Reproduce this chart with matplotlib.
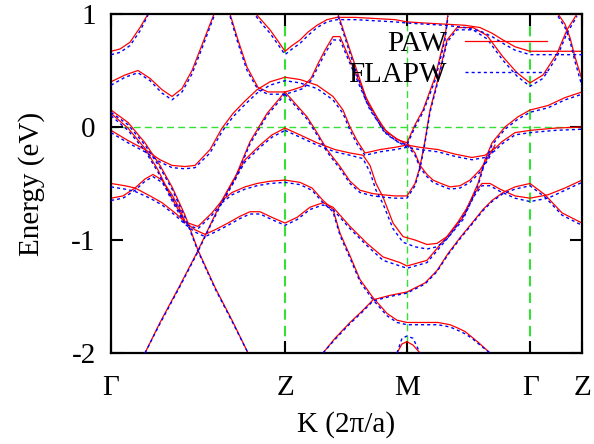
import matplotlib
matplotlib.use('Agg')
import matplotlib.pyplot as plt

plt.rcParams['font.family'] = ['Liberation Serif', 'DejaVu Serif']
plt.rcParams['font.size'] = 21
plt.rcParams['axes.unicode_minus'] = False

# high-symmetry points along the path
kpt_pos = [0.0, 1.74, 2.963, 4.193, 4.71]
kpt_labels = ['Γ', 'Z', 'M', 'Γ', 'Z']
e_ticks = [-2, -1, 0, 1]
e_labels = ['-2', '-1', '0', '1']

# bands: k, PAW energy (eV), FLAPW energy (eV)
b01_k = [0.00, 0.09, 0.19, 0.29, 0.37]
b01_paw = [0.67, 0.69, 0.75, 0.88, 1.00]
b01_fla = [0.64, 0.66, 0.72, 0.85, 0.99]

b02_k = [0.00, 0.14, 0.27, 0.39, 0.51, 0.61, 0.71, 0.81, 0.92, 1.03]
b02_paw = [0.40, 0.46, 0.50, 0.43, 0.33, 0.27, 0.34, 0.50, 0.75, 1.00]
b02_fla = [0.37, 0.44, 0.48, 0.41, 0.30, 0.24, 0.31, 0.47, 0.72, 0.98]

b03_k = [1.19, 1.27, 1.36, 1.47, 1.57, 1.74, 1.82, 1.92, 2.00, 2.07, 2.14, 2.22, 2.29, 2.42, 2.59, 2.76, 2.96]
b03_paw = [1.00, 0.77, 0.53, 0.35, 0.31, 0.31, 0.33, 0.36, 0.43, 0.56, 0.68, 0.80, 0.80, 0.53, 0.18, -0.05, -0.16]
b03_fla = [0.98, 0.74, 0.50, 0.33, 0.29, 0.29, 0.31, 0.34, 0.41, 0.53, 0.65, 0.77, 0.77, 0.50, 0.15, -0.07, -0.18]

b04_k = [2.27, 2.39, 2.55, 2.72, 2.86, 2.96, 3.04, 3.12, 3.24, 3.34, 3.37]
b04_paw = [1.00, 0.68, 0.26, -0.01, -0.11, -0.14, 0.02, 0.15, 0.44, 0.80, 1.00]
b04_fla = [0.98, 0.65, 0.23, -0.03, -0.13, -0.16, 0.00, 0.13, 0.41, 0.77, 0.98]

b05_k = [1.45, 1.52, 1.59, 1.67, 1.74, 1.81, 1.89, 1.97, 2.06, 2.16, 2.26, 2.44, 2.64, 2.84, 2.96,
         3.14, 3.34, 3.54, 3.69, 3.81, 3.92, 4.04, 4.19, 4.44, 4.71]
b05_paw = [1.00, 0.93, 0.86, 0.76, 0.67, 0.72, 0.77, 0.84, 0.90, 0.95, 0.97, 0.97, 0.96, 0.95, 0.93,
           0.92, 0.91, 0.90, 0.88, 0.83, 0.77, 0.71, 0.67, 0.67, 0.67]
b05_fla = [0.98, 0.90, 0.83, 0.73, 0.64, 0.69, 0.74, 0.81, 0.88, 0.93, 0.95, 0.95, 0.94, 0.93, 0.92,
           0.91, 0.90, 0.88, 0.85, 0.80, 0.74, 0.68, 0.64, 0.64, 0.64]

b06_k = [0.00, 0.17, 0.34, 0.49, 0.61, 0.74, 0.84, 0.99, 1.11, 1.22, 1.34, 1.46, 1.59, 1.74, 1.89,
         2.06, 2.22, 2.32, 2.39, 2.46, 2.54, 2.69, 2.84, 2.96, 3.09, 3.27, 3.44, 3.61, 3.74, 3.84,
         3.91, 4.04, 4.19, 4.44, 4.71]
b06_paw = [-0.03, -0.12, -0.20, -0.29, -0.34, -0.35, -0.34, -0.20, -0.01, 0.12, 0.23, 0.33, 0.40, 0.44, 0.42,
           0.37, 0.27, 0.15, 0.00, -0.12, -0.23, -0.20, -0.18, -0.16, -0.18, -0.20, -0.24, -0.27, -0.25, -0.19,
           -0.13, -0.05, -0.03, -0.01, 0.00]
b06_fla = [-0.05, -0.14, -0.22, -0.31, -0.36, -0.37, -0.36, -0.23, -0.04, 0.09, 0.20, 0.30, 0.37, 0.41, 0.39,
           0.34, 0.24, 0.12, -0.03, -0.15, -0.25, -0.22, -0.20, -0.18, -0.20, -0.22, -0.26, -0.29, -0.27, -0.21,
           -0.15, -0.07, -0.05, -0.03, -0.02]

b07_k = [0.00, 0.17, 0.34, 0.49, 0.61, 0.74, 0.87, 1.04, 1.21, 1.37]
b07_paw = [0.15, 0.04, -0.14, -0.34, -0.53, -0.78, -1.09, -1.42, -1.71, -2.00]
b07_fla = [0.13, 0.02, -0.16, -0.36, -0.55, -0.80, -1.10, -1.43, -1.72, -2.00]

b08_k = [0.00, 0.17, 0.34, 0.47, 0.59, 0.74, 0.87, 1.01, 1.11, 1.24, 1.39, 1.56, 1.74]
b08_paw = [0.12, -0.01, -0.19, -0.38, -0.60, -0.84, -0.88, -0.76, -0.65, -0.45, -0.13, 0.12, 0.31]
b08_fla = [0.10, -0.03, -0.21, -0.40, -0.62, -0.86, -0.90, -0.78, -0.67, -0.47, -0.15, 0.10, 0.29]

b09_k = [0.34, 0.49, 0.69, 0.86, 0.99, 1.11, 1.21, 1.34, 1.49, 1.61, 1.74]
b09_paw = [-2.00, -1.73, -1.40, -1.11, -0.87, -0.65, -0.49, -0.29, -0.16, -0.07, -0.01]
b09_fla = [-2.00, -1.74, -1.41, -1.12, -0.88, -0.67, -0.51, -0.31, -0.18, -0.09, -0.03]

b10_k = [0.00, 0.14, 0.24, 0.39, 0.51, 0.64, 0.74, 0.84, 0.94, 1.04, 1.17, 1.29, 1.39, 1.49, 1.61,
         1.74, 1.86, 1.99, 2.12, 2.22, 2.39, 2.56, 2.72, 2.89, 2.96, 3.16, 3.36, 3.52, 3.67, 3.74,
         3.81, 3.94, 4.07, 4.19, 4.37, 4.54, 4.71]
b10_paw = [-0.50, -0.52, -0.54, -0.61, -0.67, -0.76, -0.84, -0.91, -0.95, -0.91, -0.85, -0.79, -0.75, -0.75, -0.80,
           -0.85, -0.80, -0.71, -0.67, -0.71, -0.88, -1.03, -1.15, -1.20, -1.23, -1.18, -0.97, -0.80, -0.50, -0.29,
           -0.14, 0.00, 0.09, 0.15, 0.19, 0.26, 0.31]
b10_fla = [-0.53, -0.55, -0.57, -0.63, -0.69, -0.78, -0.86, -0.93, -0.97, -0.93, -0.87, -0.81, -0.77, -0.77, -0.82,
           -0.87, -0.82, -0.73, -0.69, -0.73, -0.90, -1.05, -1.18, -1.23, -1.25, -1.20, -0.99, -0.82, -0.52, -0.31,
           -0.16, -0.02, 0.07, 0.13, 0.17, 0.24, 0.29]

b11_k = [0.00, 0.12, 0.24, 0.34, 0.42, 0.51, 0.61, 0.69, 0.74]
b11_paw = [-0.63, -0.61, -0.54, -0.46, -0.42, -0.47, -0.60, -0.73, -0.84]
b11_fla = [-0.65, -0.63, -0.56, -0.48, -0.44, -0.49, -0.62, -0.75, -0.86]

b12_k = [1.11, 1.21, 1.34, 1.46, 1.59, 1.74, 1.89, 2.01, 2.12, 2.22, 2.29, 2.39, 2.49, 2.62, 2.76,
         2.86, 2.96, 3.14, 3.27, 3.39, 3.47, 3.54, 3.61, 3.69, 3.79]
b12_paw = [-0.65, -0.58, -0.53, -0.50, -0.48, -0.47, -0.49, -0.54, -0.65, -0.73, -0.94, -1.14, -1.35, -1.51, -1.65,
           -1.71, -1.73, -1.73, -1.73, -1.75, -1.78, -1.81, -1.86, -1.92, -2.00]
b12_fla = [-0.67, -0.60, -0.55, -0.52, -0.50, -0.49, -0.51, -0.56, -0.67, -0.75, -0.96, -1.16, -1.37, -1.53, -1.67,
           -1.73, -1.75, -1.75, -1.75, -1.77, -1.80, -1.83, -1.87, -1.93, -2.00]

b13_k = [1.74, 1.86, 1.96, 2.06, 2.16, 2.29, 2.39, 2.49, 2.62, 2.72, 2.84, 2.96, 3.04, 3.09, 3.14,
         3.19, 3.26, 3.31, 3.36, 3.46, 3.62, 3.76, 3.92, 4.06, 4.19, 4.32, 4.46, 4.56, 4.66]
b13_paw = [0.31, 0.19, 0.09, -0.05, -0.20, -0.35, -0.48, -0.56, -0.59, -0.60, -0.61, -0.61, -0.50, -0.35, -0.12,
           0.15, 0.39, 0.58, 0.77, 0.88, 0.88, 0.81, 0.62, 0.48, 0.39, 0.46, 0.65, 0.86, 1.00]
b13_fla = [0.29, 0.17, 0.07, -0.07, -0.22, -0.37, -0.50, -0.58, -0.61, -0.62, -0.63, -0.63, -0.52, -0.37, -0.14,
           0.13, 0.37, 0.56, 0.75, 0.86, 0.86, 0.78, 0.59, 0.45, 0.36, 0.43, 0.62, 0.83, 0.98]

b14_k = [1.74, 1.89, 2.06, 2.24, 2.39, 2.52, 2.59, 2.65, 2.72, 2.82, 2.92, 3.04, 3.16, 3.26, 3.36,
         3.47, 3.55, 3.64, 3.71, 3.79, 3.89, 4.04, 4.19, 4.37, 4.54, 4.71]
b14_paw = [-0.01, -0.07, -0.14, -0.20, -0.23, -0.25, -0.34, -0.50, -0.62, -0.85, -0.97, -1.00, -1.04, -1.03, -0.97,
           -0.84, -0.73, -0.58, -0.50, -0.50, -0.55, -0.61, -0.63, -0.60, -0.54, -0.47]
b14_fla = [-0.03, -0.09, -0.16, -0.22, -0.25, -0.28, -0.40, -0.56, -0.68, -0.90, -1.02, -1.06, -1.08, -1.06, -0.99,
           -0.86, -0.75, -0.60, -0.52, -0.52, -0.57, -0.63, -0.66, -0.63, -0.56, -0.49]

b15_k = [2.12, 2.24, 2.39, 2.51, 2.62, 2.79, 2.96, 3.14, 3.26, 3.37, 3.49, 3.61, 3.72, 3.81, 3.92,
         4.04, 4.19, 4.34, 4.51, 4.71]
b15_paw = [-2.00, -1.87, -1.73, -1.63, -1.53, -1.49, -1.46, -1.38, -1.27, -1.12, -0.98, -0.85, -0.73, -0.65, -0.58,
           -0.53, -0.50, -0.60, -0.76, -0.85]
b15_fla = [-2.00, -1.88, -1.74, -1.64, -1.54, -1.50, -1.47, -1.39, -1.28, -1.13, -0.99, -0.86, -0.74, -0.66, -0.59,
           -0.55, -0.52, -0.62, -0.78, -0.87]

b16_k = [2.86, 2.91, 2.96, 3.02, 3.09]
b16_paw = [-2.00, -1.92, -1.90, -1.93, -2.00]
b16_fla = [-2.00, -1.87, -1.85, -1.87, -2.00]

b17_k = [4.47, 4.54, 4.59, 4.64, 4.71]
b17_paw = [1.00, 0.91, 0.79, 0.62, 0.42]
b17_fla = [0.98, 0.88, 0.76, 0.58, 0.36]

b18_k = [2.96, 3.04, 3.09, 3.16, 3.22, 3.30, 3.39, 3.49, 3.59, 3.69, 3.77, 3.84]
b18_paw = [-0.14, -0.23, -0.34, -0.42, -0.47, -0.50, -0.53, -0.52, -0.47, -0.38, -0.27, -0.16]
b18_fla = [-0.16, -0.25, -0.36, -0.44, -0.49, -0.52, -0.55, -0.54, -0.49, -0.40, -0.29, -0.18]

bands = [
    (b01_k, b01_paw, b01_fla), (b02_k, b02_paw, b02_fla), (b03_k, b03_paw, b03_fla),
    (b04_k, b04_paw, b04_fla), (b05_k, b05_paw, b05_fla), (b06_k, b06_paw, b06_fla),
    (b07_k, b07_paw, b07_fla), (b08_k, b08_paw, b08_fla), (b09_k, b09_paw, b09_fla),
    (b10_k, b10_paw, b10_fla), (b11_k, b11_paw, b11_fla), (b12_k, b12_paw, b12_fla),
    (b13_k, b13_paw, b13_fla), (b14_k, b14_paw, b14_fla), (b15_k, b15_paw, b15_fla),
    (b16_k, b16_paw, b16_fla), (b17_k, b17_paw, b17_fla), (b18_k, b18_paw, b18_fla),
]

fig = plt.figure(figsize=(5.94, 4.44), dpi=100)
ax = fig.add_axes([0.1869, 0.2050, 0.7929, 0.7635])

green = '#33e033'
ax.axhline(0, color=green, lw=1.0, dashes=(5, 3), zorder=1)
for i, kp in enumerate(kpt_pos[1:4]):
    ax.axvline(kp, color=green, lw=1.0 if i == 1 else 1.5, dashes=(5, 3), zorder=1)

for k, paw, fla in bands:
    l_paw, = ax.plot(k, paw, color='#ff0000', lw=0.9, zorder=2)
for k, paw, fla in bands:
    l_fla, = ax.plot(k, fla, color='#0000ff', lw=1.0, dashes=(2.2, 2.2), zorder=3)

ax.set_xlim(kpt_pos[0], kpt_pos[-1])
ax.set_ylim(-2, 1)
ax.set_xticks(kpt_pos)
ax.set_xticklabels(kpt_labels)
ax.set_yticks(e_ticks)
ax.set_yticklabels(e_labels)
ax.tick_params(direction='in', length=8.5, width=1.5, top=True, right=True)
ax.tick_params(axis='x', pad=16)
ax.tick_params(axis='y', pad=11)
for s in ax.spines.values():
    s.set_linewidth(1.6)

ax.set_xlabel('K (2π/a)')
ax.set_ylabel('Energy (eV)')
ax.yaxis.set_label_coords(-0.14, 0.5)
ax.xaxis.set_label_coords(0.5, -0.17)

ax.legend([l_paw, l_fla], ['PAW', 'FLAPW'], loc='upper right',
          bbox_to_anchor=(0.926, 0.951), markerfirst=False, frameon=False,
          handlelength=2.8, handletextpad=0.65, labelspacing=0.17,
          borderpad=0, borderaxespad=0)

fig.savefig('out.png', dpi=100)
